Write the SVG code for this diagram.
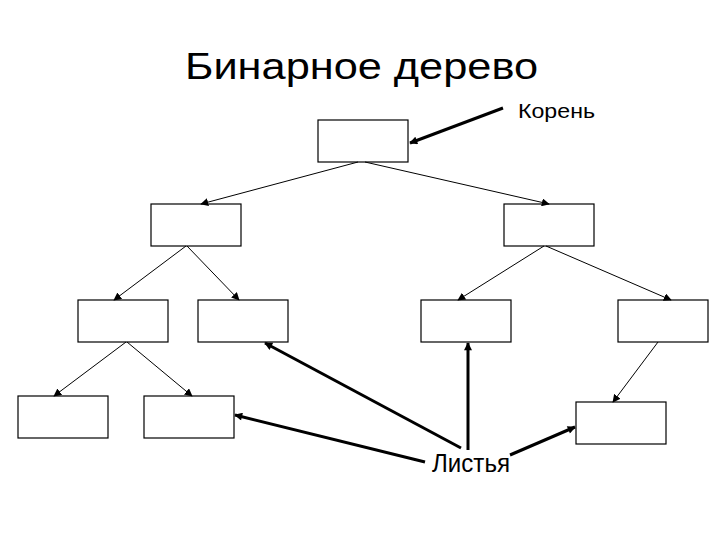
<svg xmlns="http://www.w3.org/2000/svg" width="720" height="540" viewBox="0 0 720 540">
<style>
.box{fill:#fff;stroke:#000;stroke-width:1.2}
.thin{stroke:#000;stroke-width:1;fill:none}
.thick{stroke:#000;stroke-width:3;fill:none}
text{font-family:"Liberation Sans",Arial,sans-serif;fill:#000}
</style>
<defs>
<marker id="ah" viewBox="0 0 10 10" refX="9" refY="5" markerWidth="8" markerHeight="8" markerUnits="userSpaceOnUse" orient="auto"><path d="M0,0 L10,5 L0,10 z" fill="#000"/></marker>
<marker id="ahb" viewBox="0 0 10 10" refX="9" refY="5" markerWidth="10" markerHeight="8" markerUnits="userSpaceOnUse" orient="auto"><path d="M0,0 L10,5 L0,10 z" fill="#000"/></marker>
</defs>
<rect width="720" height="540" fill="#fff"/>
<text x="185" y="79" font-size="37" textLength="353" lengthAdjust="spacingAndGlyphs">Бинарное дерево</text>
<g id="n-root"><rect class="box" x="318" y="120" width="90" height="42"/></g>
<g id="n-l"><rect class="box" x="151" y="204" width="90" height="42"/></g>
<g id="n-r"><rect class="box" x="504" y="204" width="90" height="42"/></g>
<g id="n-ll"><rect class="box" x="78" y="300" width="90" height="42"/></g>
<g id="n-lr"><rect class="box" x="198" y="300" width="90" height="42"/></g>
<g id="n-rl"><rect class="box" x="421" y="300" width="90" height="42"/></g>
<g id="n-rr"><rect class="box" x="618" y="300" width="90" height="42"/></g>
<g id="n-lll"><rect class="box" x="18" y="396" width="90" height="42"/></g>
<g id="n-llr"><rect class="box" x="144" y="396" width="90" height="42"/></g>
<g id="n-rrl"><rect class="box" x="576" y="402" width="90" height="42"/></g>
<g id="connectors">
<line class="thin" x1="358" y1="162" x2="201" y2="204" marker-end="url(#ah)"/>
<line class="thin" x1="365" y1="162" x2="549" y2="204" marker-end="url(#ah)"/>
<line class="thin" x1="186" y1="246" x2="114" y2="300" marker-end="url(#ah)"/>
<line class="thin" x1="187" y1="246" x2="239" y2="300" marker-end="url(#ah)"/>
<line class="thin" x1="544" y1="246" x2="458" y2="300" marker-end="url(#ah)"/>
<line class="thin" x1="546" y1="246" x2="671" y2="300" marker-end="url(#ah)"/>
<line class="thin" x1="126" y1="342" x2="54" y2="396" marker-end="url(#ah)"/>
<line class="thin" x1="127" y1="342" x2="192" y2="396" marker-end="url(#ah)"/>
<line class="thin" x1="658" y1="342" x2="613" y2="402" marker-end="url(#ah)"/>
<line class="thick" x1="503" y1="108" x2="410" y2="143" marker-end="url(#ahb)"/>
<line class="thick" x1="468" y1="450" x2="468" y2="343" marker-end="url(#ahb)"/>
<line class="thick" x1="461" y1="448" x2="265" y2="343" marker-end="url(#ahb)"/>
<line class="thick" x1="425" y1="462" x2="235" y2="415" marker-end="url(#ahb)"/>
<line class="thick" x1="510" y1="455" x2="575" y2="427" marker-end="url(#ahb)"/>
</g>
<text x="518" y="118" font-size="21" textLength="77" lengthAdjust="spacingAndGlyphs">Корень</text>
<text x="432" y="472" font-size="26" textLength="78" lengthAdjust="spacingAndGlyphs">Листья</text>
</svg>
